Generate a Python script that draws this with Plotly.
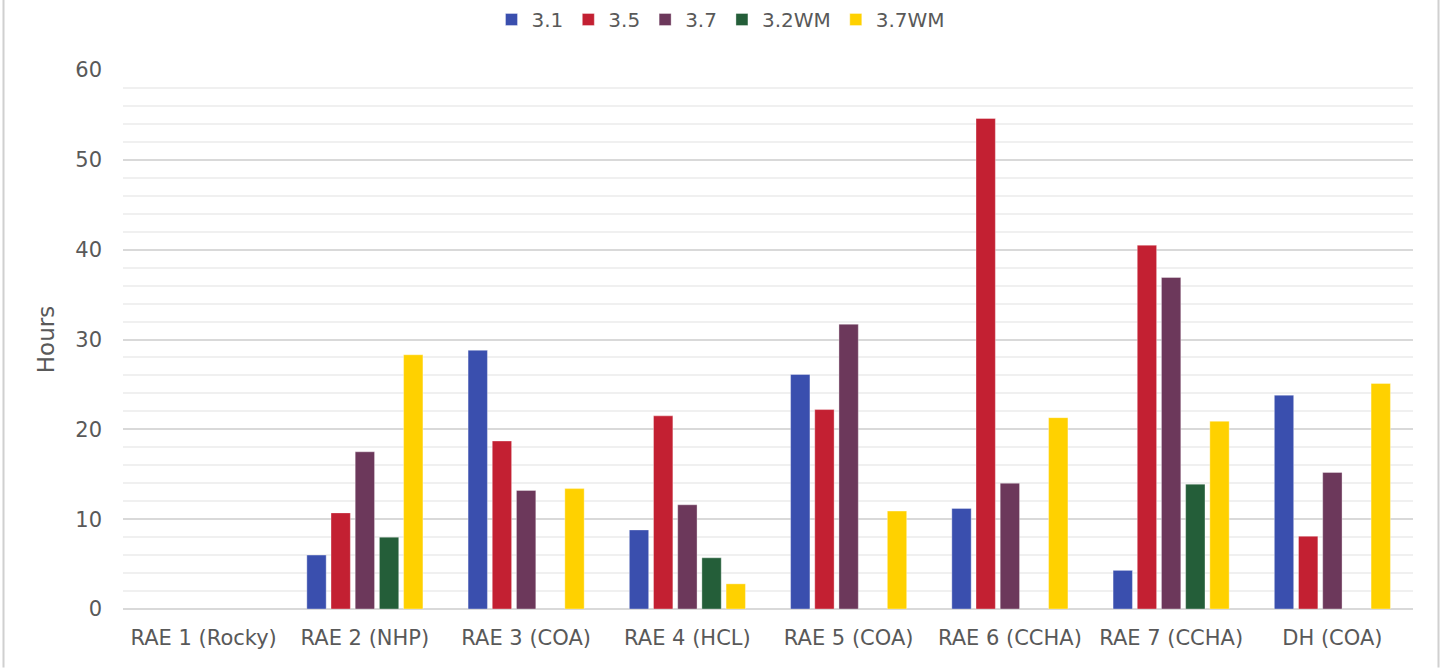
import plotly.graph_objects as go

# Hours per site, one list per series
categories = ["RAE 1 (Rocky)", "RAE 2 (NHP)", "RAE 3 (COA)", "RAE 4 (HCL)",
              "RAE 5 (COA)", "RAE 6 (CCHA)", "RAE 7 (CCHA)", "DH (COA)"]
s_3_1 = [None, 6.0, 28.8, 8.8, 26.1, 11.2, 4.3, 23.8]
s_3_5 = [None, 10.7, 18.7, 21.5, 22.2, 54.6, 40.5, 8.1]
s_3_7 = [None, 17.5, 13.2, 11.6, 31.7, 14.0, 36.9, 15.2]
s_3_2wm = [None, 8.0, None, 5.7, None, None, 13.9, None]
s_3_7wm = [None, 28.3, 13.4, 2.8, 10.9, 21.3, 20.9, 25.1]

series = [
    ("3.1", s_3_1, "#3a4fae"),
    ("3.5", s_3_5, "#c32032"),
    ("3.7", s_3_7, "#6c385b"),
    ("3.2WM", s_3_2wm, "#245e39"),
    ("3.7WM", s_3_7wm, "#ffd100"),
]

FONT = "DejaVu Sans"
TXT = "#595959"

fig = go.Figure()
for name, vals, color in series:
    fig.add_trace(go.Bar(
        x=categories, y=vals, name=name,
        marker=dict(color=color, line=dict(color="rgba(255,255,255,0.35)", width=1)),
    ))

fig.update_layout(
    width=1442, height=668,
    margin=dict(l=123, r=29, t=70, b=58.5),
    paper_bgcolor="white", plot_bgcolor="white",
    barmode="group", bargap=0.25, bargroupgap=0.2,
    font=dict(family=FONT, color=TXT, size=20),
    legend=dict(orientation="h", x=0.5, xanchor="center", xref="container",
                y=1.0, yanchor="top", yref="container",
                font=dict(size=20, color=TXT), itemwidth=30, tracegroupgap=0),
    showlegend=True,
    xaxis=dict(showgrid=False, showline=False, ticks="", ticklabelstandoff=14,
               tickfont=dict(size=21, color=TXT)),
    yaxis=dict(range=[0, 60], dtick=10, showline=False, ticks="",
               gridcolor="#d9d9d9", gridwidth=1.5,
               zeroline=True, zerolinecolor="#d9d9d9", zerolinewidth=2,
               minor=dict(dtick=2, showgrid=True, gridcolor="#f0f0f0", gridwidth=1.5),
               tickfont=dict(size=21, color=TXT), ticklabelstandoff=20,
               title=dict(text="Hours", font=dict(size=23, color=TXT), standoff=14)),
)

# Thin frame lines at the left and right edges of the page
for px in (3.5, 1438.5):
    xv = (px - 123) / 1290
    fig.add_shape(type="line", xref="paper", yref="paper",
                  x0=xv, x1=xv, y0=-58.5 / 539.5, y1=(668 - 58.5) / 539.5 + 0.2,
                  line=dict(color="#d0d0d0", width=2), layer="above")

fig.write_html("out.html")
